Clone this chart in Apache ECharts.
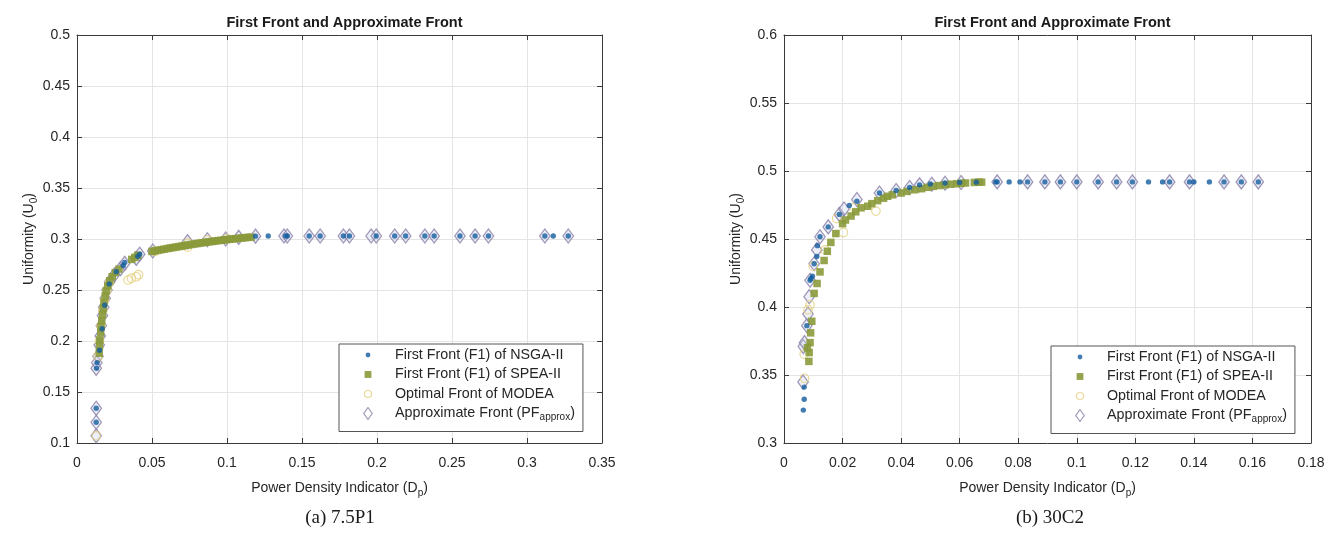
<!DOCTYPE html>
<html>
<head>
<meta charset="utf-8">
<script src="https://cdn.jsdelivr.net/npm/echarts@6/dist/echarts.min.js"></script>
<style>
  html, body { margin: 0; padding: 0; background: #fff; }
  #chart { width: 1338px; height: 547px; }
</style>
</head>
<body>
<div id="chart"></div>
<script>
// ---- data: (a) 7.5P1 ----
const nsgaA = [[0.0128,0.1203],[0.0128,0.1340],[0.0130,0.1732],[0.0134,0.1787],[0.0150,0.1910],[0.0168,0.2120],[0.0185,0.2350],[0.0215,0.2560],[0.0262,0.2680],[0.0308,0.2740],[0.0318,0.2770],[0.0405,0.2830],[0.0418,0.2850],[0.1190,0.3028],[0.1275,0.3030],[0.1391,0.3030],[0.1402,0.3030],[0.1548,0.3030],[0.1621,0.3030],[0.1776,0.3030],[0.1816,0.3030],[0.1995,0.3030],[0.2118,0.3030],[0.2191,0.3030],[0.2319,0.3030],[0.2381,0.3030],[0.2553,0.3030],[0.2654,0.3030],[0.2743,0.3030],[0.3119,0.3030],[0.3175,0.3030],[0.3275,0.3030]];
const speaA = [[0.0148,0.1880],[0.0150,0.1950],[0.0152,0.2010],[0.0158,0.2080],[0.0160,0.2140],[0.0165,0.2200],[0.0170,0.2260],[0.0175,0.2320],[0.0180,0.2380],[0.0188,0.2440],[0.0195,0.2490],[0.0205,0.2540],[0.0218,0.2590],[0.0235,0.2630],[0.0255,0.2670],[0.0280,0.2705],[0.0365,0.2800],[0.0385,0.2820],[0.0405,0.2840],[0.0500,0.2878],[0.0520,0.2884],[0.0540,0.2889],[0.0560,0.2895],[0.0580,0.2900],[0.0600,0.2906],[0.0620,0.2911],[0.0640,0.2916],[0.0660,0.2921],[0.0680,0.2926],[0.0700,0.2931],[0.0720,0.2936],[0.0740,0.2941],[0.0760,0.2946],[0.0780,0.2951],[0.0800,0.2955],[0.0820,0.2960],[0.0840,0.2964],[0.0860,0.2968],[0.0880,0.2972],[0.0900,0.2976],[0.0920,0.2980],[0.0940,0.2984],[0.0960,0.2987],[0.0980,0.2991],[0.1000,0.2994],[0.1020,0.2998],[0.1040,0.3001],[0.1060,0.3004],[0.1080,0.3007],[0.1100,0.3010],[0.1120,0.3013],[0.1140,0.3016],[0.1160,0.3018]];
const modeaA = [[0.0128,0.1070],[0.0140,0.1850],[0.0150,0.2000],[0.0160,0.2150],[0.0172,0.2300],[0.0185,0.2400],[0.0200,0.2500],[0.0215,0.2570],[0.0340,0.2598],[0.0362,0.2614],[0.0395,0.2630],[0.0410,0.2650],[0.0520,0.2880],[0.0737,0.2920],[0.0740,0.2960],[0.0870,0.2990],[0.1000,0.3005]];
const approxA = [[0.0128,0.1070],[0.0128,0.1203],[0.0128,0.1340],[0.0128,0.1732],[0.0132,0.1787],[0.0140,0.1850],[0.0148,0.1960],[0.0155,0.2050],[0.0162,0.2150],[0.0170,0.2250],[0.0178,0.2330],[0.0188,0.2420],[0.0200,0.2500],[0.0218,0.2580],[0.0250,0.2650],[0.0290,0.2710],[0.0318,0.2761],[0.0395,0.2810],[0.0418,0.2850],[0.0505,0.2882],[0.0737,0.2974],[0.0869,0.2993],[0.0991,0.3000],[0.1078,0.3016],[0.1190,0.3028],[0.1380,0.3030],[0.1402,0.3030],[0.1548,0.3030],[0.1621,0.3030],[0.1776,0.3030],[0.1816,0.3030],[0.1961,0.3030],[0.1995,0.3030],[0.2118,0.3030],[0.2191,0.3030],[0.2319,0.3030],[0.2381,0.3030],[0.2553,0.3030],[0.2654,0.3030],[0.2743,0.3030],[0.3119,0.3030],[0.3275,0.3030]];

// ---- data: (b) 30C2 ----
const nsgaB = [[0.0066,0.3242],[0.0069,0.3322],[0.0069,0.3411],[0.0078,0.3863],[0.0089,0.4197],[0.0092,0.4210],[0.0097,0.4226],[0.0103,0.4318],[0.0112,0.4371],[0.0114,0.4451],[0.0123,0.4516],[0.0151,0.4589],[0.0189,0.4681],[0.0223,0.4746],[0.0249,0.4778],[0.0326,0.4838],[0.0383,0.4857],[0.0429,0.4879],[0.0463,0.4898],[0.0500,0.4905],[0.0550,0.4912],[0.0600,0.4915],[0.0657,0.4918],[0.0723,0.4920],[0.0728,0.4920],[0.0769,0.4920],[0.0806,0.4920],[0.0832,0.4920],[0.0891,0.4920],[0.0944,0.4920],[0.1000,0.4920],[0.1073,0.4920],[0.1136,0.4920],[0.1190,0.4920],[0.1245,0.4920],[0.1293,0.4920],[0.1317,0.4920],[0.1385,0.4920],[0.1400,0.4920],[0.1453,0.4920],[0.1503,0.4920],[0.1562,0.4920],[0.1620,0.4920]];
const speaB = [[0.0085,0.3600],[0.0080,0.3700],[0.0086,0.3665],[0.0089,0.3738],[0.0091,0.3810],[0.0095,0.3895],[0.0103,0.4100],[0.0113,0.4173],[0.0123,0.4258],[0.0137,0.4342],[0.0148,0.4410],[0.0160,0.4475],[0.0177,0.4540],[0.0200,0.4613],[0.0210,0.4640],[0.0229,0.4669],[0.0245,0.4700],[0.0263,0.4729],[0.0286,0.4741],[0.0300,0.4760],[0.0320,0.4782],[0.0340,0.4800],[0.0354,0.4814],[0.0370,0.4825],[0.0400,0.4838],[0.0420,0.4850],[0.0446,0.4862],[0.0470,0.4870],[0.0490,0.4880],[0.0510,0.4887],[0.0530,0.4893],[0.0550,0.4898],[0.0570,0.4903],[0.0590,0.4906],[0.0605,0.4910],[0.0620,0.4912],[0.0650,0.4916],[0.0665,0.4918],[0.0675,0.4918]];
const modeaB = [[0.0070,0.3476],[0.0069,0.3653],[0.0082,0.3980],[0.0089,0.4016],[0.0100,0.4300],[0.0140,0.4420],[0.0180,0.4650],[0.0203,0.4548],[0.0240,0.4730],[0.0314,0.4705]];
const approxB = [[0.0065,0.3448],[0.0066,0.3709],[0.0070,0.3738],[0.0078,0.3863],[0.0082,0.3948],[0.0086,0.4076],[0.0089,0.4197],[0.0103,0.4318],[0.0112,0.4420],[0.0123,0.4516],[0.0151,0.4589],[0.0189,0.4681],[0.0205,0.4720],[0.0249,0.4790],[0.0326,0.4838],[0.0383,0.4857],[0.0429,0.4879],[0.0463,0.4898],[0.0505,0.4903],[0.0550,0.4910],[0.0605,0.4915],[0.0728,0.4920],[0.0832,0.4920],[0.0891,0.4920],[0.0944,0.4920],[0.1000,0.4920],[0.1073,0.4920],[0.1136,0.4920],[0.1190,0.4920],[0.1317,0.4920],[0.1385,0.4920],[0.1503,0.4920],[0.1562,0.4920],[0.1620,0.4920]];

// ---- texts ----
const seriesNames = ['First Front (F1) of NSGA-II', 'First Front (F1) of SPEA-II', 'Optimal Front of MODEA', 'Approximate Front (PFapprox)'];
const titleText = 'First Front and Approximate Front';
const xName = 'Power Density Indicator (D{sub|p})';
const yName = 'Uniformity (U{sub|0})';
const captions = ['(a) 7.5P1', '(b) 30C2'];

// axis ranges
const xRangeA = { min: 0, max: 0.35, interval: 0.05 };
const yRangeA = { min: 0.1, max: 0.5, interval: 0.05 };
const xRangeB = { min: 0, max: 0.18, interval: 0.02 };
const yRangeB = { min: 0.3, max: 0.6, interval: 0.05 };

const C_DOT = '#135c9e', C_SQ = '#8a9a3a', C_CIR = '#e3d07c', C_DIA = '#8a80a8';
const FONT = 'Liberation Sans, Arial, sans-serif';

// legend icons as small SVGs, marker placed near the left of a 33x14 box
function svgIcon(inner) {
  const s = '<svg xmlns="http://www.w3.org/2000/svg" width="33" height="14" viewBox="0 0 33 14">' + inner + '</svg>';
  return 'image://data:image/svg+xml;charset=utf-8,' + encodeURIComponent(s);
}
const icons = [
  svgIcon('<circle cx="11" cy="7" r="2.4" fill="' + C_DOT + '"/>'),
  svgIcon('<rect x="7.6" y="3.6" width="6.8" height="6.8" fill="' + C_SQ + '"/>'),
  svgIcon('<circle cx="11" cy="7" r="3.5" fill="none" stroke="' + C_CIR + '" stroke-width="1.2"/>'),
  svgIcon('<polygon points="11,1 15.2,7 11,13 6.8,7" fill="none" stroke="' + C_DIA + '" stroke-width="1.2"/>')
];

const subRich = { sub: { fontSize: 10, padding: [9, 0, 0, 0], fontFamily: FONT, color: '#262626' } };

function makeAxes(gridIndex, xr, yr, yGap) {
  const lineStyle = { color: '#3a3a3a', width: 1 };
  const tick = { show: true, inside: true, length: 5, lineStyle: { color: '#3a3a3a' } };
  return {
    x: [
      { type: 'value', gridIndex, min: xr.min, max: xr.max, interval: xr.interval, position: 'bottom',
        name: xName, nameLocation: 'middle', nameGap: 36,
        nameTextStyle: { fontSize: 14, color: '#262626', fontFamily: FONT, rich: subRich },
        axisLine: { show: true, onZero: false, lineStyle }, axisTick: tick,
        axisLabel: { fontSize: 14, color: '#262626', fontFamily: FONT, margin: 13 },
        splitLine: { show: true, lineStyle: { color: '#e4e4e4' } } },
      { type: 'value', gridIndex, min: xr.min, max: xr.max, interval: xr.interval, position: 'top',
        axisLine: { show: true, onZero: false, lineStyle }, axisTick: tick,
        axisLabel: { show: false }, splitLine: { show: false } }
    ],
    y: [
      { type: 'value', gridIndex, min: yr.min, max: yr.max, interval: yr.interval, position: 'left',
        name: yName, nameLocation: 'middle', nameGap: yGap, nameRotate: 90,
        nameTextStyle: { fontSize: 14, color: '#262626', fontFamily: FONT, rich: subRich },
        axisLine: { show: true, onZero: false, lineStyle }, axisTick: tick,
        axisLabel: { fontSize: 14, color: '#262626', fontFamily: FONT, margin: 7 },
        splitLine: { show: true, lineStyle: { color: '#e4e4e4' } } },
      { type: 'value', gridIndex, min: yr.min, max: yr.max, interval: yr.interval, position: 'right',
        axisLine: { show: true, onZero: false, lineStyle }, axisTick: tick,
        axisLabel: { show: false }, splitLine: { show: false } }
    ]
  };
}

function makeSeries(axisIdx, sets) {
  const common = { type: 'scatter', xAxisIndex: axisIdx, yAxisIndex: axisIdx, silent: true, animation: false };
  return [
    Object.assign({}, common, { name: seriesNames[3], data: sets[3], symbol: 'diamond', symbolSize: [10.5, 14], z: 2,
      itemStyle: { color: 'rgba(200,208,235,0.4)', borderColor: C_DIA, borderWidth: 1.3 } }),
    Object.assign({}, common, { name: seriesNames[2], data: sets[2], symbol: 'circle', symbolSize: 8.5, z: 3,
      itemStyle: { color: 'rgba(255,255,255,0)', borderColor: C_CIR, borderWidth: 1.2 } }),
    Object.assign({}, common, { name: seriesNames[1], data: sets[1], symbol: 'rect', symbolSize: 7.5, z: 4,
      itemStyle: { color: C_SQ, opacity: 0.9 } }),
    Object.assign({}, common, { name: seriesNames[0], data: sets[0], symbol: 'circle', symbolSize: 5.4, z: 5,
      itemStyle: { color: C_DOT } })
  ];
}

function makeLegend(left, top) {
  return {
    left, top, orient: 'vertical', selectedMode: false,
    data: seriesNames.map((n, i) => ({ name: n, icon: icons[i] })),
    itemWidth: 33, itemHeight: 14, itemGap: 5.5, itemStyle: { borderWidth: 0 },
    padding: [4, 8, 9, 18],
    borderColor: '#555', borderWidth: 1, backgroundColor: '#fff',
    formatter: n => n === seriesNames[3] ? 'Approximate Front (PF{sub|approx})' : n,
    textStyle: { fontSize: 14.3, color: '#262626', fontFamily: FONT, lineHeight: 14,
      rich: { sub: { fontSize: 10, padding: [8, 0, 0, 0], fontFamily: FONT, color: '#262626' } } }
  };
}

const axA = makeAxes(0, xRangeA, yRangeA, 29);
const axB = makeAxes(1, xRangeB, yRangeB, 36);

const option = {
  backgroundColor: '#fff',
  animation: false,
  title: [
    { text: titleText, left: 339.5, top: 10, textAlign: 'center',
      textStyle: { fontSize: 14.5, fontWeight: 'bold', color: '#1a1a1a', fontFamily: FONT } },
    { text: titleText, left: 1047.5, top: 10, textAlign: 'center',
      textStyle: { fontSize: 14.5, fontWeight: 'bold', color: '#1a1a1a', fontFamily: FONT } }
  ],
  grid: [
    { left: 77, top: 35, width: 525, height: 408 },
    { left: 784, top: 35, width: 527, height: 408 }
  ],
  xAxis: [...axA.x, ...axB.x],
  yAxis: [...axA.y, ...axB.y],
  legend: [makeLegend(339, 344), makeLegend(1051, 346)],
  series: [
    ...makeSeries(0, [nsgaA, speaA, modeaA, approxA]),
    ...makeSeries(2, [nsgaB, speaB, modeaB, approxB])
  ],
  graphic: [
    { type: 'text', x: 340, y: 518,
      style: { text: captions[0], font: '19px "Liberation Serif", "DejaVu Serif", serif', fill: '#1a1a1a',
        align: 'center', verticalAlign: 'middle' } },
    { type: 'text', x: 1050, y: 518,
      style: { text: captions[1], font: '19px "Liberation Serif", "DejaVu Serif", serif', fill: '#1a1a1a',
        align: 'center', verticalAlign: 'middle' } }
  ]
};

const chart = echarts.init(document.getElementById('chart'), null, { renderer: 'canvas' });
chart.setOption(option);
</script>
</body>
</html>
